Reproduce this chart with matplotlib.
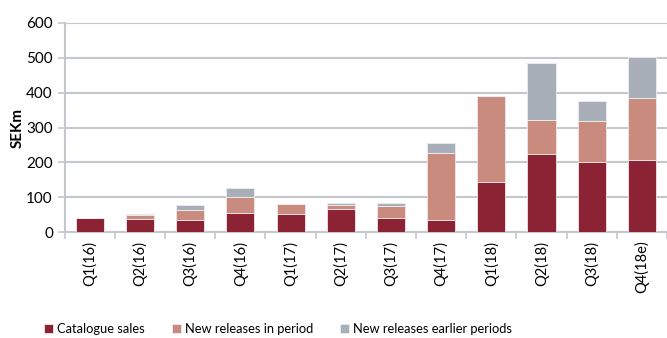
import matplotlib.pyplot as plt
import numpy as np

quarters = ["Q1(16)", "Q2(16)", "Q3(16)", "Q4(16)", "Q1(17)", "Q2(17)",
            "Q3(17)", "Q4(17)", "Q1(18)", "Q2(18)", "Q3(18)", "Q4(18e)"]
catalogue = [42, 38, 36, 55, 51, 66, 42, 35, 143, 224, 200, 206]
new_period = [0, 12, 29, 47, 29, 13, 33, 191, 247, 99, 118, 178]
new_earlier = [0, 2, 12, 25, 2, 5, 9, 29, 0, 161, 57, 118]

plt.rcParams['font.family'] = ['Lato', 'DejaVu Sans']

fig = plt.figure(figsize=(6.67, 3.38), dpi=100)
ax = fig.add_axes([0.097, 0.313, 0.903, 0.619])

x = np.arange(len(quarters))
w = 0.56
grey = "#c4c7cc"
bottom2 = np.array(catalogue) + np.array(new_period)

ax.bar(x, catalogue, w, color="#8b2335", edgecolor="#f2e6e8", linewidth=0.6,
       label="Catalogue sales", zorder=3)
ax.bar(x, new_period, w, bottom=catalogue, color="#c98b7e", edgecolor="#f2e6e8",
       linewidth=0.6, label="New releases in period", zorder=3)
ax.bar(x, new_earlier, w, bottom=bottom2, color="#a9afb8", edgecolor="#eeeff1",
       linewidth=0.6, label="New releases earlier periods", zorder=3)

ax.set_ylim(0, 600)
ax.set_xlim(-0.5, len(quarters) - 0.5)
ax.set_yticks(range(0, 601, 100))
ax.grid(axis="y", color=grey, linewidth=1.5, zorder=0)
ax.set_ylabel("SEKm", fontsize=11, fontweight="bold", labelpad=1)

ax.set_xticks(x)
ax.set_xticklabels(quarters, rotation=90, fontsize=10.5)
ax.set_xticks(np.arange(-0.5, len(quarters), 1), minor=True)
ax.tick_params(axis="x", which="major", length=0, pad=6)
ax.tick_params(axis="x", which="minor", length=5, color=grey, width=1.2)
ax.tick_params(axis="y", length=5, color=grey, width=1.2, labelsize=11)

for s in ["top", "right"]:
    ax.spines[s].set_visible(False)
for s in ["left", "bottom"]:
    ax.spines[s].set_color(grey)
    ax.spines[s].set_linewidth(1.5)

fig.legend(loc="lower center", bbox_to_anchor=(0.417, -0.025), ncol=3, frameon=False,
           fontsize=9.3, handlelength=0.7, handleheight=0.7, handletextpad=0.3,
           columnspacing=2.1)

fig.savefig("out.png", dpi=100)
